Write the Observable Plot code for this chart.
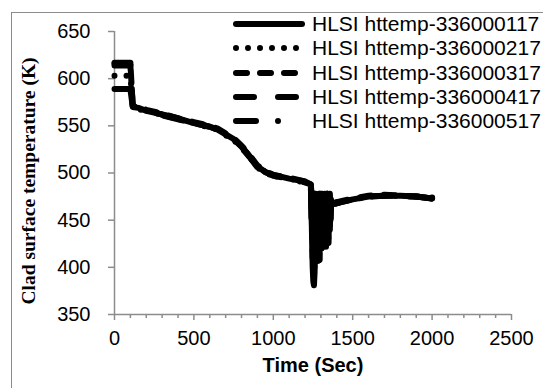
<!DOCTYPE html>
<html>
<head>
<meta charset="utf-8">
<script src="https://cdn.jsdelivr.net/npm/d3@7"></script>
<script src="https://cdn.jsdelivr.net/npm/@observablehq/plot@0.6"></script>
<style>
  html, body { margin: 0; padding: 0; background: #fff; overflow: hidden; }
  #wrap { position: relative; width: 543px; height: 388px; overflow: hidden; background: #fff; }
  #frame { position: absolute; left: 11px; top: 12px; width: 620px; height: 500px; border-left: 1.5px solid #8c8c8c; border-top: 1.5px solid #8c8c8c; box-sizing: border-box; }
  #chart { position: absolute; left: 0; top: 0; }
  #ylab { position: absolute; left: 29px; top: 181px; transform: translate(-50%, -50%) rotate(-90deg); white-space: nowrap;
          font-family: "Liberation Serif", "Times New Roman", serif; font-weight: bold; font-size: 19.5px; color: #000; }
  #xlab { position: absolute; left: 313px; top: 365px; transform: translate(-50%, -50%); white-space: nowrap;
          font-family: "Liberation Sans", Arial, sans-serif; font-weight: bold; font-size: 20px; color: #000; }
  #legend { position: absolute; left: 231px; top: 12px; font-family: "Liberation Sans", Arial, sans-serif; font-size: 21px; color: #000; }
  .row { display: flex; align-items: center; height: 24.3px; }
  .row svg { width: 78px; height: 14px; margin-right: 3px; }
</style>
</head>
<body>
<div id="wrap">
  <div id="frame"></div>
  <div id="chart"></div>
  <div id="ylab">Clad surface temperature (K)</div>
  <div id="xlab">Time (Sec)</div>
  <div id="legend"></div>
</div>
<script>
const seriesNames = ["HLSI httemp-336000117", "HLSI httemp-336000217", "HLSI httemp-336000317", "HLSI httemp-336000417", "HLSI httemp-336000517"];
const dashes = [null, "0 12", "11 13", "18 24", "20 22 0 24 0 24"];

const time = [0, 50, 100, 115, 150, 200, 250, 300, 400, 500, 600, 650, 700, 750, 800, 850, 900, 950, 1000, 1100, 1200,
  1236, 1240, 1244, 1248, 1252, 1256, 1260, 1264, 1268, 1272, 1276, 1280, 1284, 1288, 1292, 1296, 1300, 1304, 1308, 1312,
  1316, 1320, 1324, 1328, 1332, 1336, 1340, 1344, 1348, 1352, 1356, 1360, 1364, 1368,
  1400, 1500, 1600, 1700, 1800, 1900, 2000];

const s117 = [589, 589, 589, 570, 569, 566, 564, 562, 558, 553, 549, 546, 541, 536, 528, 518, 507, 501, 498, 494, 491,
  488, 470, 430, 400, 385, 381, 395, 420, 450, 476, 440, 410, 430, 470, 478, 440, 420, 450, 478, 430,
  425, 470, 478, 440, 425, 460, 478, 435, 430, 470, 476, 450, 468, 467,
  468, 472, 475, 476, 476, 475, 473];
const s217 = [603, 603, 603, 571, 569, 566, 564, 562, 557, 553, 549, 546, 541, 535, 527, 517, 506, 500, 497, 494, 490,
  487, 478, 450, 420, 400, 390, 405, 440, 478, 460, 420, 405, 440, 478, 450, 420, 460, 478, 435, 422,
  470, 478, 440, 424, 465, 478, 430, 428, 475, 470, 440, 460, 466, 468,
  469, 472, 475, 476, 476, 475, 473];
const s317 = [616, 616, 616, 571, 570, 567, 565, 563, 558, 554, 550, 547, 542, 537, 529, 519, 508, 502, 498, 495, 491,
  489, 460, 478, 440, 405, 420, 470, 478, 430, 410, 450, 478, 420, 404, 460, 478, 430, 424, 470, 478,
  425, 440, 478, 460, 422, 445, 478, 440, 426, 470, 478, 445, 470, 468,
  469, 473, 476, 477, 476, 475, 474];
const s417 = [617, 617, 617, 571, 569, 566, 564, 562, 557, 553, 549, 546, 541, 536, 528, 518, 507, 501, 497, 494, 490,
  488, 480, 440, 478, 430, 450, 478, 420, 460, 478, 415, 440, 478, 430, 408, 470, 478, 420, 440, 478,
  450, 422, 460, 478, 430, 440, 478, 426, 450, 478, 440, 468, 467, 467,
  468, 472, 475, 476, 476, 475, 473];
const s517 = [614, 614, 614, 570, 568, 565, 563, 561, 557, 553, 548, 545, 540, 535, 527, 517, 506, 500, 497, 493, 490,
  487, 450, 470, 410, 440, 478, 400, 430, 478, 420, 470, 460, 405, 478, 440, 430, 478, 424, 460, 440,
  478, 430, 422, 470, 478, 426, 455, 478, 432, 440, 476, 460, 472, 467,
  468, 472, 475, 476, 475, 475, 473];

const yTicks = [350, 400, 450, 500, 550, 600, 650];
const xTicks = [0, 500, 1000, 1500, 2000, 2500];
const xMinor = [100, 200, 300, 400, 600, 700, 800, 900, 1100, 1200, 1300, 1400, 1600, 1700, 1800, 1900, 2100, 2200, 2300, 2400];

const allSeries = [s117, s217, s317, s417, s517];
const data = [];
allSeries.forEach((vals, i) => vals.forEach((v, j) => data.push({series: seriesNames[i], idx: i, t: time[j], v})));

const axisColor = "#8c8c8c";
const marks = [];
allSeries.forEach((vals, i) => {
  marks.push(Plot.line(data.filter(d => d.idx === i), {
    x: "t", y: "v", stroke: "#000", strokeWidth: 6, strokeLinejoin: "round", strokeLinecap: "round",
    strokeDasharray: dashes[i] || undefined
  }));
});

const chart = Plot.plot({
  width: 543, height: 388,
  marginLeft: 114, marginRight: 32, marginTop: 31, marginBottom: 74,
  style: {background: "transparent", fontFamily: "'Liberation Sans', Arial, sans-serif", fontSize: "20px", color: "#000"},
  x: {domain: [0, 2500]},
  y: {domain: [350, 650]},
  marks: [
    Plot.ruleX([0], {stroke: axisColor, strokeWidth: 1.5}),
    Plot.ruleY([350], {stroke: axisColor, strokeWidth: 1.5}),
    Plot.axisY(yTicks, {tickSize: 6, tickPadding: 18, tickFormat: d => String(d), stroke: axisColor, strokeWidth: 1.5, fill: "#000", fontSize: 20, label: null}),
    Plot.axisX(xTicks, {tickSize: 6, tickPadding: 10, tickFormat: d => String(d), stroke: axisColor, strokeWidth: 1.5, fill: "#000", fontSize: 20, label: null}),
    Plot.axisX(xMinor, {tickSize: 4, text: null, stroke: axisColor, strokeWidth: 1.5, label: null}),
    ...marks
  ]
});
document.getElementById("chart").appendChild(chart);

const legend = document.getElementById("legend");
seriesNames.forEach((name, i) => {
  const row = document.createElement("div");
  row.className = "row";
  const dash = dashes[i] ? ` stroke-dasharray="${dashes[i]}"` : "";
  row.innerHTML = `<svg viewBox="0 0 78 14"><line x1="5" y1="7" x2="71" y2="7" stroke="#000" stroke-width="6" stroke-linecap="round"${dash}/></svg><span>${name}</span>`;
  legend.appendChild(row);
});
</script>
</body>
</html>
